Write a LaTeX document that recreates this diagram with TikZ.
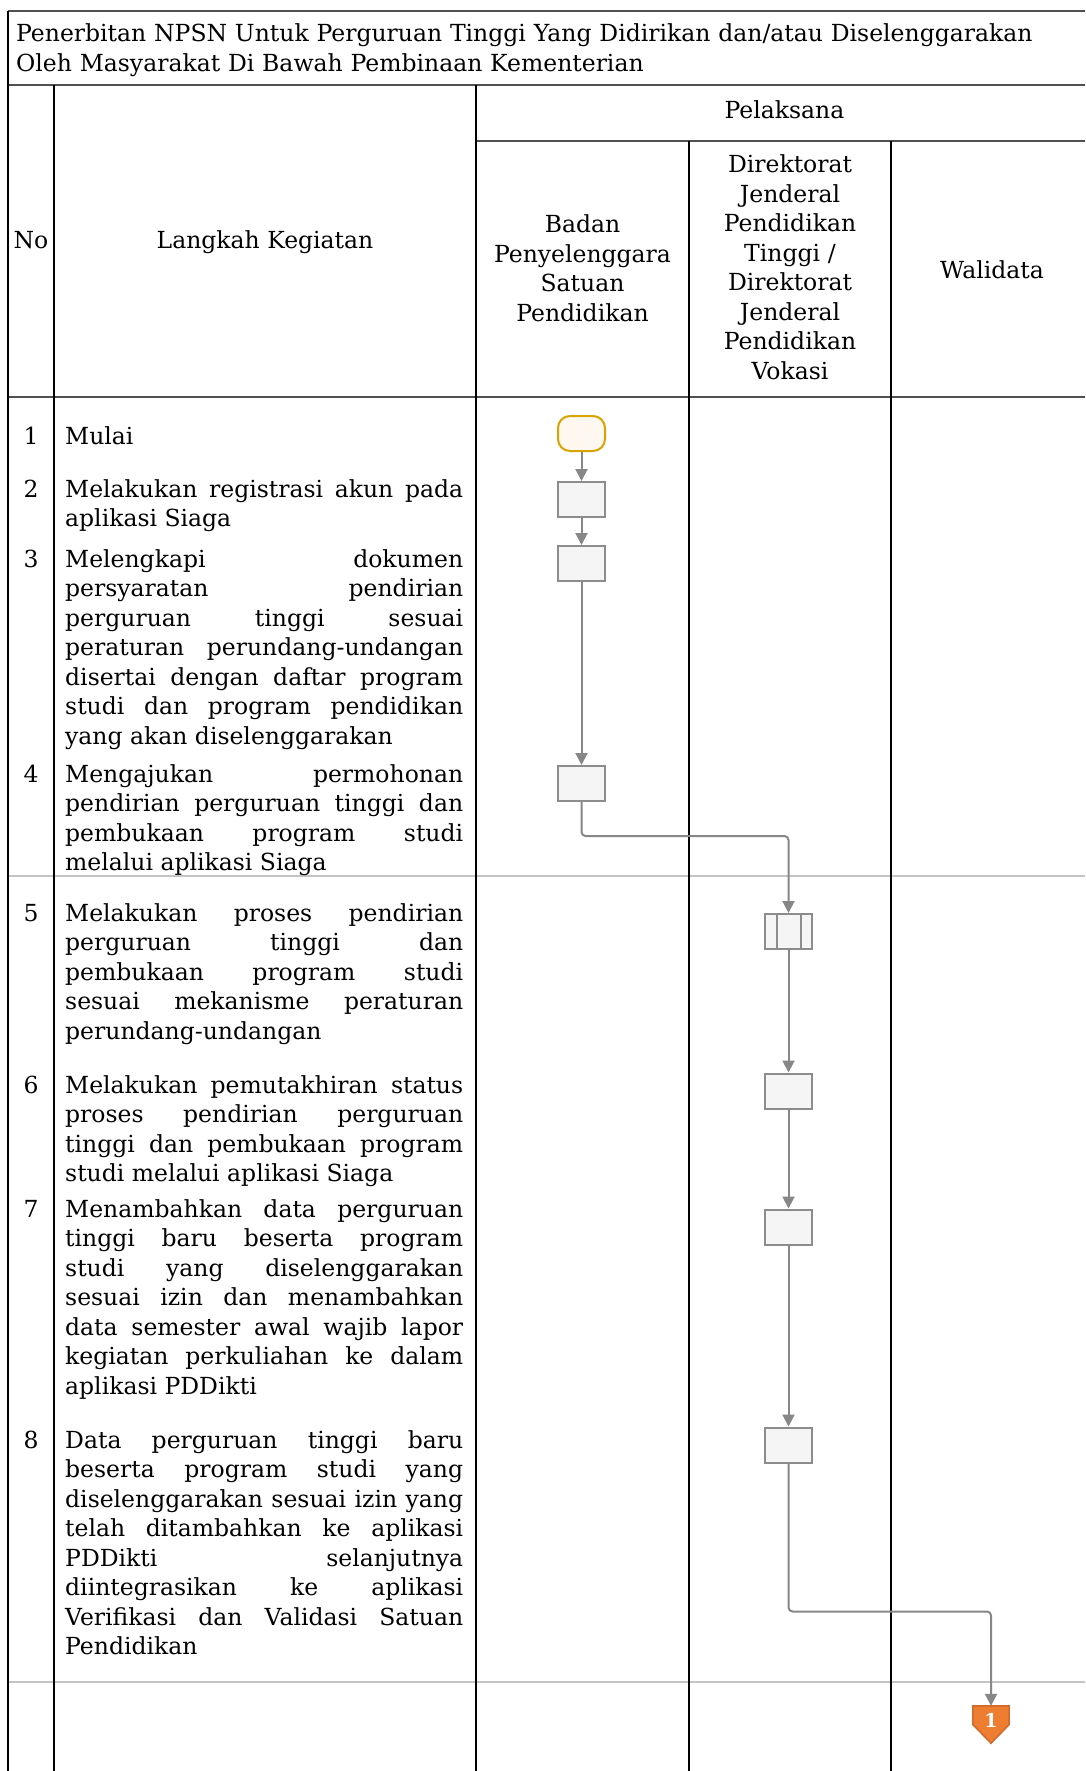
\documentclass[tikz,border=0pt]{standalone}
\usepackage{fontspec}
\setmainfont{DejaVu Serif}
\usetikzlibrary{arrows.meta}
\definecolor{flowgray}{HTML}{878787}
\definecolor{boxfill}{HTML}{F5F5F5}
\definecolor{boxline}{HTML}{8C8C8C}
\definecolor{startline}{HTML}{D9A400}
\definecolor{startfill}{HTML}{FFF8F0}
\definecolor{sepgray}{HTML}{C4C4C4}
\definecolor{hline}{HTML}{505050}
\definecolor{opfill}{HTML}{ED7D31}
\definecolor{opline}{HTML}{D0692A}
\tikzset{
  txt/.style={font=\fontsize{23.5}{29.5}\selectfont, inner sep=0pt},
  langkah/.style={txt, anchor=base west, text width=398pt, align=justify,
    execute at begin node={\hyphenpenalty=10000\exhyphenpenalty=10000\tolerance=10000\parfillskip=0pt plus 1fil}},
  nomor/.style={txt, anchor=base},
  hdr/.style={txt, anchor=base, text width=220pt, align=center},
  stepbox/.style={draw=boxline, fill=boxfill, line width=2pt, minimum width=47pt, minimum height=35pt, inner sep=0pt},
  startbox/.style={draw=startline, fill=startfill, line width=2pt, minimum width=47pt, minimum height=35pt, inner sep=0pt, rounded corners=12pt},
  flow/.style={draw=flowgray, line width=2pt, rounded corners=4pt, -{Triangle[length=12pt,width=12pt]}},
  vline/.style={draw=black, line width=1.2pt},
  hrule/.style={draw=hline, line width=1.8pt},
  srule/.style={draw=sepgray, line width=2pt},
}
\begin{document}
\begin{tikzpicture}[x=1pt,y=-1pt]
\useasboundingbox (0,0) rectangle (1085,1771);
\fill[white] (0,0) rectangle (1085,1771);
\clip (0,0) rectangle (1085,1771);

% separators (gray)
\path[srule] (8,876) -- (1093,876);
\path[srule] (8,1682) -- (1093,1682);

% table lines
\path[hrule] (8,11) -- (1093,11);
\path[hrule] (8,85) -- (1093,85);
\path[hrule] (476,141) -- (1093,141);
\path[hrule] (8,397) -- (1093,397);
\path[vline] (8,11) -- (8,1775);
\path[vline] (54,85) -- (54,1775);
\path[vline] (476,85) -- (476,1775);
\path[vline] (689,141) -- (689,1775);
\path[vline] (891,141) -- (891,1775);
\path[vline] (1093,11) -- (1093,1775);

% title
\node[txt, anchor=base west, text width=1060pt, align=left] (title) at (16,42)
  {Penerbitan NPSN Untuk Perguruan Tinggi Yang Didirikan dan/atau Diselenggarakan\\Oleh Masyarakat Di Bawah Pembinaan Kementerian};

% header
\node[nomor] (hno) at (31,248) {No};
\node[nomor] (hlk) at (265,248) {Langkah Kegiatan};
\node[nomor] (hpl) at (784.5,119) {Pelaksana};
\node[hdr] (hbp) at (582.5,233) {Badan\\Penyelenggara\\Satuan\\Pendidikan};
\node[hdr] (hdj) at (790,173) {Direktorat\\Jenderal\\Pendidikan\\Tinggi /\\Direktorat\\Jenderal\\Pendidikan\\Vokasi};
\node[nomor] (hwd) at (992,278) {Walidata};

% numbers
\node[nomor] (n1) at (31,444) {1};
\node[nomor] (n2) at (31,497) {2};
\node[nomor] (n3) at (31,567) {3};
\node[nomor] (n4) at (31,782) {4};
\node[nomor] (n5) at (31,921) {5};
\node[nomor] (n6) at (31,1093) {6};
\node[nomor] (n7) at (31,1217) {7};
\node[nomor] (n8) at (31,1448) {8};

% step texts
\node[langkah] (t1) at (65,444) {Mulai};
\node[langkah] (t2) at (65,497) {Melakukan registrasi akun pada\linebreak aplikasi Siaga};
\node[langkah] (t3) at (65,567) {Melengkapi dokumen\linebreak persyaratan pendirian\linebreak perguruan tinggi sesuai\linebreak peraturan perundang-undangan\linebreak disertai dengan daftar program\linebreak studi dan program pendidikan\linebreak yang akan diselenggarakan};
\node[langkah] (t4) at (65,782) {Mengajukan permohonan\linebreak pendirian perguruan tinggi dan\linebreak pembukaan program studi\linebreak melalui aplikasi Siaga};
\node[langkah] (t5) at (65,921) {Melakukan proses pendirian\linebreak perguruan tinggi dan\linebreak pembukaan program studi\linebreak sesuai mekanisme peraturan\linebreak perundang-undangan};
\node[langkah] (t6) at (65,1093) {Melakukan pemutakhiran status\linebreak proses pendirian perguruan\linebreak tinggi dan pembukaan program\linebreak studi melalui aplikasi Siaga};
\node[langkah] (t7) at (65,1217) {Menambahkan data perguruan\linebreak tinggi baru beserta program\linebreak studi yang diselenggarakan\linebreak sesuai izin dan menambahkan\linebreak data semester awal wajib lapor\linebreak kegiatan perkuliahan ke dalam\linebreak aplikasi PDDikti};
\node[langkah] (t8) at (65,1448) {Data perguruan tinggi baru\linebreak beserta program studi yang\linebreak diselenggarakan sesuai izin yang\linebreak telah ditambahkan ke aplikasi\linebreak PDDikti selanjutnya\linebreak diintegrasikan ke aplikasi\linebreak Verifikasi dan Validasi Satuan\linebreak Pendidikan};

% flow shapes
\node[startbox] (s1) at (581.5,433.5) {};
\node[stepbox] (b2) at (581.5,499.5) {};
\node[stepbox] (b3) at (581.5,563.5) {};
\node[stepbox] (b4) at (581.5,783.5) {};
\node[stepbox] (p5) at (788.5,931.5) {};
\path[draw=boxline, line width=2pt] ([xshift=-12pt]p5.north) -- ([xshift=-12pt]p5.south)
  ([xshift=12pt]p5.north) -- ([xshift=12pt]p5.south);
\node[stepbox] (b6) at (788.5,1091) {};
\node[stepbox] (b7) at (788.5,1227) {};
\node[stepbox] (b8) at (788.5,1445) {};

% off-page connector
\node[minimum width=36pt, minimum height=37pt, inner sep=0pt] (op) at (991,1724.5) {};
\path[fill=opfill, draw=opline, line width=1.5pt, line join=miter]
  (op.north west) -- (op.north east) -- (op.east) -- (op.south) -- (op.west) -- cycle;
\node[font=\fontsize{19}{19}\bfseries\selectfont, text=white, inner sep=0pt] (op1) at (991,1720) {1};

% connectors
\path[flow] (s1) -- (b2);
\path[flow] (b2) -- (b3);
\path[flow] (b3) -- (b4);
\path[flow] (b4.south) -- ++(0,34) -| (p5.north);
\path[flow] (p5) -- (b6);
\path[flow] (b6) -- (b7);
\path[flow] (b7) -- (b8);
\path[flow] (b8.south) -- ++(0,148) -| (op.north);
\end{tikzpicture}
\end{document}
